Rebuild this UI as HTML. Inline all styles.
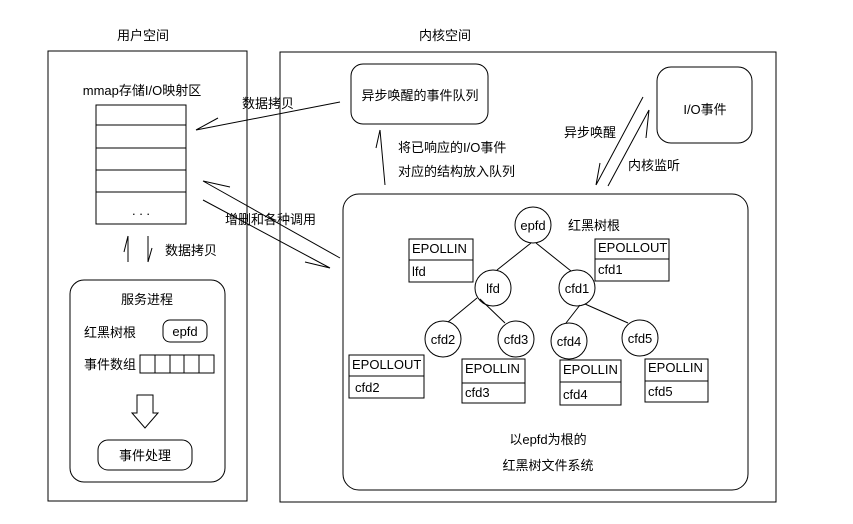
<!DOCTYPE html>
<html><head><meta charset="utf-8"><style>body{margin:0;background:#fff}svg{display:block}text{font-family:"Liberation Sans","Noto Sans CJK SC",sans-serif;font-size:13px;fill:#000}</style></head><body>
<svg width="853" height="524" viewBox="0 0 853 524" xmlns="http://www.w3.org/2000/svg">
<g fill="none" stroke="#000" stroke-width="1">
<rect x="48" y="51" width="199" height="450"/>
<rect x="280" y="52" width="496" height="450"/>
<rect x="96" y="105" width="90" height="119"/>
<path d="M96 125H186M96 148H186M96 170H186M96 192H186"/>
<path d="M340 102L196 130M196 130L218 118"/>
<path d="M203 181L340 258M203 181L230 187M203 200L330 268M330 268L305 262"/>
<path d="M128 262V236M128 236L124 252M148 236V262M148 262L152 248"/>
<rect x="70" y="280" width="155" height="202" rx="14"/>
<rect x="163" y="320" width="44" height="22" rx="7"/>
<rect x="140" y="355" width="74" height="18"/>
<path d="M155 355V373M170 355V373M184 355V373M199 355V373"/>
<path d="M137 395H153V413H158L145 428L132 413H137Z"/>
<rect x="98" y="440" width="94" height="30" rx="10"/>
<rect x="351" y="64" width="137" height="60" rx="12"/>
<path d="M385 185L380 130M380 130L376 148"/>
<rect x="657" y="67" width="95" height="76" rx="14"/>
<path d="M643 97L596 185M596 185L600 163M649 110L608 186M649 110L646 138"/>
<rect x="343" y="194" width="405" height="296" rx="16"/>
<circle cx="533" cy="225" r="18"/><circle cx="493" cy="288" r="18"/><circle cx="577" cy="288" r="18"/>
<circle cx="443" cy="339" r="18"/><circle cx="516" cy="339" r="18"/><circle cx="569" cy="341" r="18"/><circle cx="640" cy="338" r="18"/>
<path d="M531 243L497 270M536 243L571 271M477 298L448 322M480 299L505 323M580 305L566 323M585 304L628 323"/>
<rect x="409" y="239" width="64" height="43"/><path d="M409 260H473"/>
<rect x="595" y="239" width="74" height="42"/><path d="M595 259H669"/>
<rect x="349" y="355" width="75" height="43"/><path d="M349 376H424"/>
<rect x="462" y="359" width="63" height="44"/><path d="M462 383H525"/>
<rect x="560" y="360" width="61" height="45"/><path d="M560 382H621"/>
<rect x="645" y="359" width="63" height="43"/><path d="M645 381H708"/>
</g>
<text x="143" y="40" text-anchor="middle">用户空间</text>
<text x="445" y="40" text-anchor="middle">内核空间</text>
<text x="142" y="95" text-anchor="middle">mmap存储I/O映射区</text>
<text x="141" y="215" text-anchor="middle">. . .</text>
<text x="242" y="108">数据拷贝</text>
<text x="225" y="224">增删和各种调用</text>
<text x="165" y="255">数据拷贝</text>
<text x="147" y="304" text-anchor="middle">服务进程</text>
<text x="84" y="337">红黑树根</text>
<text x="185" y="336" text-anchor="middle">epfd</text>
<text x="84" y="369">事件数组</text>
<text x="145" y="460" text-anchor="middle">事件处理</text>
<text x="420" y="100" text-anchor="middle">异步唤醒的事件队列</text>
<text x="398" y="152">将已响应的I/O事件</text>
<text x="398" y="176">对应的结构放入队列</text>
<text x="705" y="114" text-anchor="middle">I/O事件</text>
<text x="564" y="137">异步唤醒</text>
<text x="628" y="170">内核监听</text>
<text x="533" y="230" text-anchor="middle">epfd</text>
<text x="568" y="230">红黑树根</text>
<text x="493" y="293" text-anchor="middle">lfd</text>
<text x="577" y="293" text-anchor="middle">cfd1</text>
<text x="443" y="344" text-anchor="middle">cfd2</text>
<text x="516" y="344" text-anchor="middle">cfd3</text>
<text x="569" y="346" text-anchor="middle">cfd4</text>
<text x="640" y="343" text-anchor="middle">cfd5</text>
<text x="412" y="253">EPOLLIN</text><text x="412" y="276">lfd</text>
<text x="598" y="252">EPOLLOUT</text><text x="598" y="274">cfd1</text>
<text x="352" y="369">EPOLLOUT</text><text x="355" y="392">cfd2</text>
<text x="465" y="373">EPOLLIN</text><text x="465" y="397">cfd3</text>
<text x="563" y="374">EPOLLIN</text><text x="563" y="399">cfd4</text>
<text x="648" y="372">EPOLLIN</text><text x="648" y="396">cfd5</text>
<text x="548" y="444" text-anchor="middle">以epfd为根的</text>
<text x="548" y="470" text-anchor="middle">红黑树文件系统</text>
</svg>
</body></html>
